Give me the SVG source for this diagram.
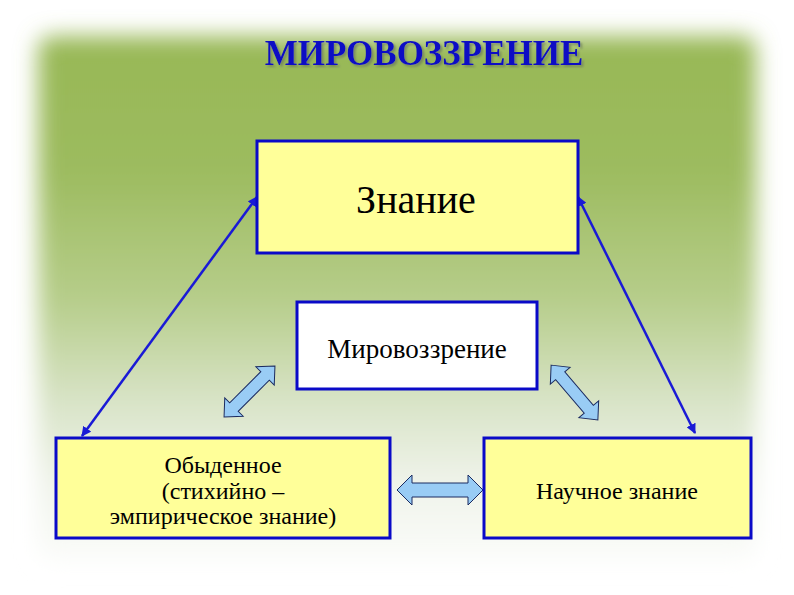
<svg xmlns="http://www.w3.org/2000/svg" width="794" height="595" viewBox="0 0 794 595">
<defs>
<linearGradient id="bg" x1="0" y1="0" x2="0" y2="1">
<stop offset="0" stop-color="#98b856"/>
<stop offset="0.25" stop-color="#9cbb5e"/>
<stop offset="0.5" stop-color="#b6cd8a"/>
<stop offset="0.7" stop-color="#d9e4c8"/>
<stop offset="0.85" stop-color="#eff3ea"/>
<stop offset="1" stop-color="#fbfcfa"/>
</linearGradient>
<filter id="soft" x="-10%" y="-10%" width="120%" height="120%">
<feGaussianBlur stdDeviation="11"/>
</filter>
<filter id="shadow" x="-5%" y="-20%" width="110%" height="150%">
<feDropShadow dx="2" dy="2" stdDeviation="0.8" flood-color="#6f7f5f" flood-opacity="0.8"/>
</filter>
<marker id="ah" viewBox="0 0 10 10" refX="9" refY="5" markerWidth="4" markerHeight="4" orient="auto-start-reverse">
<path d="M0,0 L10,5 L0,10 z" fill="#1a1ad6"/>
</marker>
<style>
.box{stroke:#0a0ac8;stroke-width:3}
.yel{fill:#ffff99}
.conn{stroke:#1a1ad6;stroke-width:2.5;fill:none}
.blk{fill:#99ccf5;stroke:#1a2a60;stroke-width:1}
</style>
</defs>
<rect width="794" height="595" fill="#ffffff"/>
<rect x="38" y="36" width="718" height="525" rx="14" fill="url(#bg)" filter="url(#soft)"/>
<g font-family="Liberation Serif, Times New Roman, serif" text-anchor="middle" fill="#000000">
<g id="title">
<text x="424" y="65" font-size="35" font-weight="bold" fill="#0b0bc4" filter="url(#shadow)">МИРОВОЗЗРЕНИЕ</text>
</g>
<g id="connectors">
<line class="conn" x1="82" y1="436" x2="257" y2="197" marker-start="url(#ah)" marker-end="url(#ah)"/>
<line class="conn" x1="578" y1="197" x2="695" y2="433" marker-start="url(#ah)" marker-end="url(#ah)"/>
<polygon class="blk" transform="translate(440,490)" points="-43,0 -28,-15 -28,-7 28,-7 28,-15 43,0 28,15 28,7 -28,7 -28,15"/>
<polygon class="blk" transform="translate(249.5,391.5) rotate(-45)" points="-36,0 -22,-13 -22,-6 22,-6 22,-13 36,0 22,13 22,6 -22,6 -22,13"/>
<polygon class="blk" transform="translate(574.5,392.5) rotate(49.5)" points="-36,0 -22,-13 -22,-6 22,-6 22,-13 36,0 22,13 22,6 -22,6 -22,13"/>
</g>
<g id="znanie">
<rect class="box yel" x="257" y="141" width="321" height="112"/>
<text x="416" y="213" font-size="40">Знание</text>
</g>
<g id="mirovozzrenie">
<rect class="box" fill="#ffffff" x="297" y="302" width="240" height="87"/>
<text x="417" y="358" font-size="27">Мировоззрение</text>
</g>
<g id="obydennoe">
<rect class="box yel" x="56" y="438" width="334" height="100"/>
<text x="223" y="473" font-size="24">Обыденное</text>
<text x="223" y="499" font-size="24">(стихийно –</text>
<text x="223" y="524" font-size="24">эмпирическое знание)</text>
</g>
<g id="nauchnoe">
<rect class="box yel" x="484" y="438" width="267" height="100"/>
<text x="617" y="499" font-size="24">Научное знание</text>
</g>
</g>
</svg>
